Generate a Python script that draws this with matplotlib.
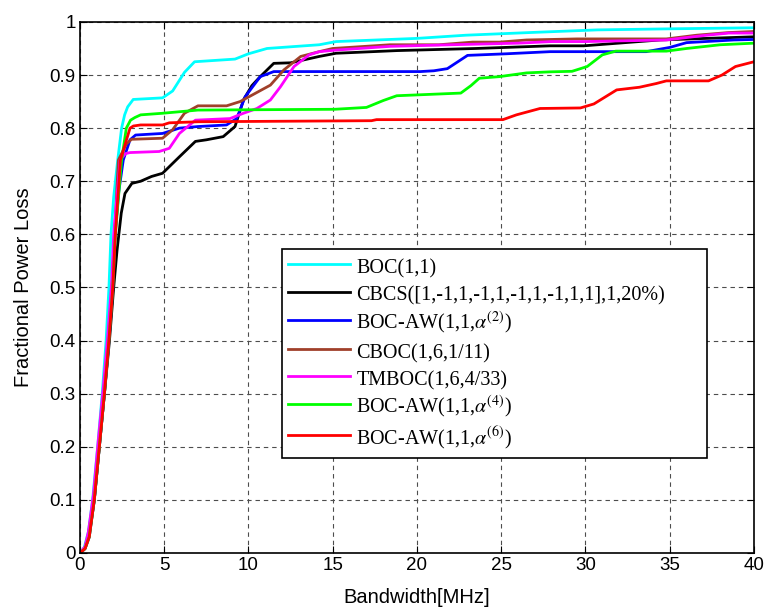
import matplotlib
matplotlib.use('Agg')
from matplotlib import pyplot as plt
from matplotlib.ticker import FormatStrFormatter

plt.rcParams['font.family'] = ['Liberation Sans', 'DejaVu Sans']
plt.rcParams['mathtext.fontset'] = 'stix'

labels = ['BOC(1,1)',
          'CBCS([1,-1,1,-1,1,-1,1,-1,1,1],1,20%)',
          r'BOC-AW(1,1,$\alpha^{(2)}$)',
          'CBOC(1,6,1/11)',
          'TMBOC(1,6,4/33)',
          r'BOC-AW(1,1,$\alpha^{(4)}$)',
          r'BOC-AW(1,1,$\alpha^{(6)}$)']
colors = ['#00FFFF', '#000000', '#0000FF', '#A0402A', '#FF00FF', '#00FF00', '#FF0000']

# bandwidth [MHz] / fractional power loss
boc_x = [0, 0.25, 0.5, 0.75, 1.05, 1.32, 1.55, 1.72, 1.84, 2.0, 2.24, 2.47, 2.65, 2.83, 3.16,
         4.9, 5.5, 6.2, 6.8, 9.2, 10.0, 11.1, 14.2, 15.2, 20, 22.9, 26.7, 30.7, 35, 40]
boc_y = [0, 0.01, 0.04, 0.1, 0.2, 0.3, 0.4, 0.5, 0.6, 0.67, 0.74, 0.8, 0.825, 0.84, 0.854,
         0.857, 0.87, 0.905, 0.925, 0.93, 0.94, 0.95, 0.957, 0.963, 0.969, 0.975, 0.98, 0.985, 0.987, 0.989]

cbcs_x = [0, 0.3, 0.55, 0.85, 1.15, 1.45, 1.75, 2.0, 2.2, 2.45, 2.67, 3.08, 3.6, 4.25, 4.9,
          5.9, 6.85, 7.5, 8.5, 9.2, 9.7, 10.2, 10.7, 11.5, 12.5, 14.2, 15.2, 18.8, 23.5, 27.9,
          29.9, 34.4, 40]
cbcs_y = [0, 0.01, 0.035, 0.1, 0.2, 0.3, 0.4, 0.5, 0.57, 0.64, 0.677, 0.696, 0.70, 0.709, 0.715,
          0.746, 0.775, 0.778, 0.784, 0.803, 0.853, 0.88, 0.897, 0.922, 0.923, 0.935, 0.941, 0.946,
          0.95, 0.955, 0.955, 0.966, 0.972]

aw2_x = [0, 0.3, 0.55, 0.85, 1.15, 1.45, 1.72, 1.95, 2.08, 2.3, 2.57, 2.97, 3.3, 4.9, 5.9, 7.0,
         8.7, 9.3, 9.8, 10.7, 11.5, 14.2, 20.2, 21.0, 21.8, 23.0, 25.3, 27.9, 33.6, 35, 36, 38.8, 40]
aw2_y = [0, 0.008, 0.03, 0.1, 0.2, 0.3, 0.4, 0.5, 0.6, 0.68, 0.74, 0.778, 0.787, 0.79, 0.80, 0.803,
         0.806, 0.818, 0.859, 0.897, 0.9065, 0.9065, 0.9065, 0.908, 0.912, 0.937, 0.94, 0.944, 0.944,
         0.952, 0.961, 0.966, 0.967]

cboc_x = [0, 0.3, 0.5, 0.8, 1.1, 1.4, 1.68, 1.9, 2.05, 2.28, 2.75, 3.06, 4.9, 5.5, 6.2, 7.0, 8.7,
          9.5, 10.2, 11.3, 12.1, 13.1, 14.2, 15, 18.4, 21.3, 23.3, 24.9, 26.5, 29.5, 34.8, 36.6, 38.5, 40]
cboc_y = [0, 0.01, 0.035, 0.1, 0.2, 0.3, 0.4, 0.5, 0.6, 0.74, 0.77, 0.779, 0.781, 0.797, 0.828, 0.842,
          0.842, 0.85, 0.862, 0.881, 0.9096, 0.935, 0.944, 0.95, 0.957, 0.957, 0.962, 0.962, 0.966,
          0.968, 0.968, 0.975, 0.98, 0.982]

tmboc_x = [0, 0.3, 0.5, 0.8, 1.08, 1.38, 1.65, 1.88, 2.0, 2.38, 2.7, 2.97, 4.7, 5.3, 5.9, 6.85, 8.9,
           9.7, 10.5, 11.3, 11.9, 12.7, 13.6, 14.2, 15.2, 18.4, 22, 26, 28, 30, 34.8, 36.9, 38.5, 40]
tmboc_y = [0, 0.012, 0.04, 0.11, 0.21, 0.31, 0.41, 0.51, 0.6, 0.74, 0.752, 0.754, 0.756, 0.762, 0.79,
           0.815, 0.818, 0.828, 0.837, 0.853, 0.878, 0.916, 0.938, 0.944, 0.947, 0.954, 0.957, 0.96,
           0.963, 0.963, 0.966, 0.974, 0.979, 0.979]

aw4_x = [0, 0.3, 0.55, 0.85, 1.15, 1.45, 1.72, 1.95, 2.1, 2.47, 2.75, 3.0, 3.26, 3.6, 4.9, 7.0,
         15.1, 17.0, 18.0, 18.8, 22.6, 23.2, 23.7, 24.9, 26.5, 27.9, 29.2, 30.1, 31.0, 31.8, 34.8,
         36.0, 38.0, 40]
aw4_y = [0, 0.008, 0.03, 0.1, 0.2, 0.3, 0.4, 0.5, 0.6, 0.74, 0.8, 0.815, 0.82, 0.825, 0.828, 0.834,
         0.8355, 0.839, 0.852, 0.861, 0.866, 0.88, 0.894, 0.897, 0.904, 0.906, 0.907, 0.916, 0.938,
         0.945, 0.945, 0.95, 0.957, 0.96]

aw6_x = [0, 0.3, 0.55, 0.85, 1.15, 1.45, 1.72, 1.95, 2.1, 2.4, 2.97, 3.17, 3.6, 4.9, 5.3, 7.0,
         17.3, 17.6, 25.1, 25.9, 27.3, 29.7, 30.5, 31.85, 33.2, 34.2, 34.8, 37.3, 38.1, 38.9, 40]
aw6_y = [0, 0.008, 0.03, 0.1, 0.2, 0.3, 0.4, 0.5, 0.6, 0.74, 0.8, 0.804, 0.806, 0.806, 0.810, 0.812,
         0.814, 0.816, 0.816, 0.825, 0.837, 0.838, 0.8456, 0.872, 0.877, 0.884, 0.889, 0.889, 0.900,
         0.916, 0.925]

curves = [(boc_x, boc_y), (cbcs_x, cbcs_y), (aw2_x, aw2_y), (cboc_x, cboc_y),
          (tmboc_x, tmboc_y), (aw4_x, aw4_y), (aw6_x, aw6_y)]

fig = plt.figure(figsize=[7.69, 6.09], dpi=100)
ax = fig.add_axes([0.104, 0.092, 0.8765, 0.872])

for (xs, ys), lab, col in zip(curves, labels, colors):
    ax.plot(xs, ys, color=col, linewidth=2, label=lab)

ax.set_xlim(0, 40)
ax.set_ylim(0, 1)
ax.set_xticks(range(0, 41, 5))
ax.set_yticks([i / 10 for i in range(11)])
ax.yaxis.set_major_formatter(FormatStrFormatter('%g'))
ax.grid(True, color='0.3', linestyle=(0, (4, 3.5)), linewidth=0.8)
ax.tick_params(direction='in', top=True, right=True, length=5, labelsize=13.5, pad=3)
for sp in ax.spines.values():
    sp.set_linewidth(1.2)
ax.set_xlabel('Bandwidth[MHz]', fontsize=14.5, labelpad=10)
ax.set_ylabel('Fractional Power Loss', fontsize=14.5, labelpad=12)

# tall handle boxes give every legend row the same height
leg = ax.legend(loc='upper left', bbox_to_anchor=(0.2997, 0.179, 0.6306, 0.3935), mode='expand',
                fancybox=False, framealpha=1, edgecolor='black', handlelength=3.1,
                handleheight=1.4, handletextpad=0.3, labelspacing=0.2, borderpad=0.3,
                borderaxespad=0, prop={'family': 'Liberation Serif', 'size': 14.5})
leg.get_frame().set_linewidth(1.2)

plt.savefig('out.png')
